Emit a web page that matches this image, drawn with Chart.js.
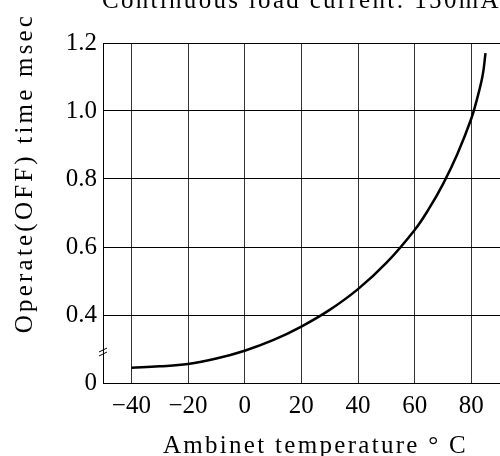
<!DOCTYPE html>
<html>
<head>
<meta charset="utf-8">
<script src="https://cdn.jsdelivr.net/npm/chart.js@4/dist/chart.umd.min.js"></script>
<style>
    html, body { margin: 0; padding: 0; background: #fff; overflow: hidden; }
    #wrap { width: 536px; height: 456px; }
</style>
</head>
<body>
<div id="wrap"><canvas id="chart"></canvas></div>
<script>
// Curve (y in plotted units, bottom of broken axis = 0.2)
const temperatures = [-40, -30, -20, -10, 0, 10, 20, 30, 40, 50, 60, 65, 70, 75, 80, 82, 84, 85];
const operateTimes = [0.245, 0.249, 0.256, 0.272, 0.295, 0.326, 0.366, 0.415, 0.476, 0.553, 0.65, 0.712, 0.785, 0.872, 0.978, 1.035, 1.105, 1.17];

const xTicks = [-50, -40, -20, 0, 20, 40, 60, 80, 100];
const yTicks = [0.2, 0.4, 0.6, 0.8, 1.0, 1.2];

const chartTitle = "Continuous load current: 150mA";
const xTitle = "Ambinet temperature \u00b0 C";
const yTitle = "Operate(OFF) time msec";

const FONT = "Liberation Serif";

// Titles and the axis break mark
const annotations = {
    id: "annotations",
    afterDraw(chart) {
        let ctx = chart.ctx;
        let area = chart.chartArea;
        ctx.save();
        ctx.fillStyle = "#000";
        ctx.font = "25px '" + FONT + "'";
        ctx.letterSpacing = "2.3px";

        ctx.textAlign = "left";
        ctx.textBaseline = "alphabetic";
        ctx.fillText(chartTitle, area.left - 1, 8);

        ctx.textAlign = "center";
        ctx.fillText(xTitle, (area.left + area.right) / 2, 453);

        ctx.letterSpacing = "3.2px";
        ctx.translate(32, 173);
        ctx.rotate(-Math.PI / 2);
        ctx.fillText(yTitle, 0, 0);
        ctx.restore();

        // break symbol on the y axis
        ctx.save();
        ctx.strokeStyle = "#000";
        ctx.lineWidth = 1;
        ctx.beginPath();
        ctx.moveTo(area.left - 4, 352);
        ctx.lineTo(area.left + 4, 348);
        ctx.moveTo(area.left - 4, 356);
        ctx.lineTo(area.left + 4, 352);
        ctx.stroke();
        ctx.restore();
    }
};

new Chart(document.getElementById("chart"), {
    type: "line",
    data: {
        datasets: [{
            data: temperatures.map((t, i) => ({ x: t, y: operateTimes[i] })),
            borderColor: "#000",
            borderWidth: 2.5,
            pointRadius: 0,
            tension: 0.4,
            fill: false
        }]
    },
    options: {
        responsive: true,
        maintainAspectRatio: false,
        animation: false,
        layout: { padding: { top: 43, right: 7, left: 0, bottom: 0 } },
        plugins: {
            legend: { display: false },
            tooltip: { enabled: false }
        },
        scales: {
            x: {
                type: "linear",
                min: -50,
                max: 100,
                afterBuildTicks: scale => { scale.ticks = xTicks.map(v => ({ value: v })); },
                afterFit: scale => { scale.height = 73; },
                ticks: {
                    color: "#000",
                    padding: 8,
                    maxRotation: 0,
                    autoSkip: false,
                    font: { family: FONT, size: 25 },
                    callback: v => (v === -50 || v === 100) ? "" : String(v).replace("-", "\u2212")
                },
                grid: { color: "#333", lineWidth: 1, drawTicks: false },
                border: { color: "#000", width: 1 }
            },
            y: {
                min: 0.2,
                max: 1.2,
                afterBuildTicks: scale => { scale.ticks = yTicks.map(v => ({ value: v })); },
                afterFit: scale => { scale.width = 103; },
                ticks: {
                    color: "#000",
                    padding: 6,
                    font: { family: FONT, size: 25 },
                    callback: v => Math.abs(v - 0.2) < 1e-6 ? "0" : v.toFixed(1)
                },
                grid: { color: "#000", lineWidth: 1, drawTicks: false },
                border: { color: "#000", width: 1 }
            }
        }
    },
    plugins: [annotations]
});
</script>
</body>
</html>
